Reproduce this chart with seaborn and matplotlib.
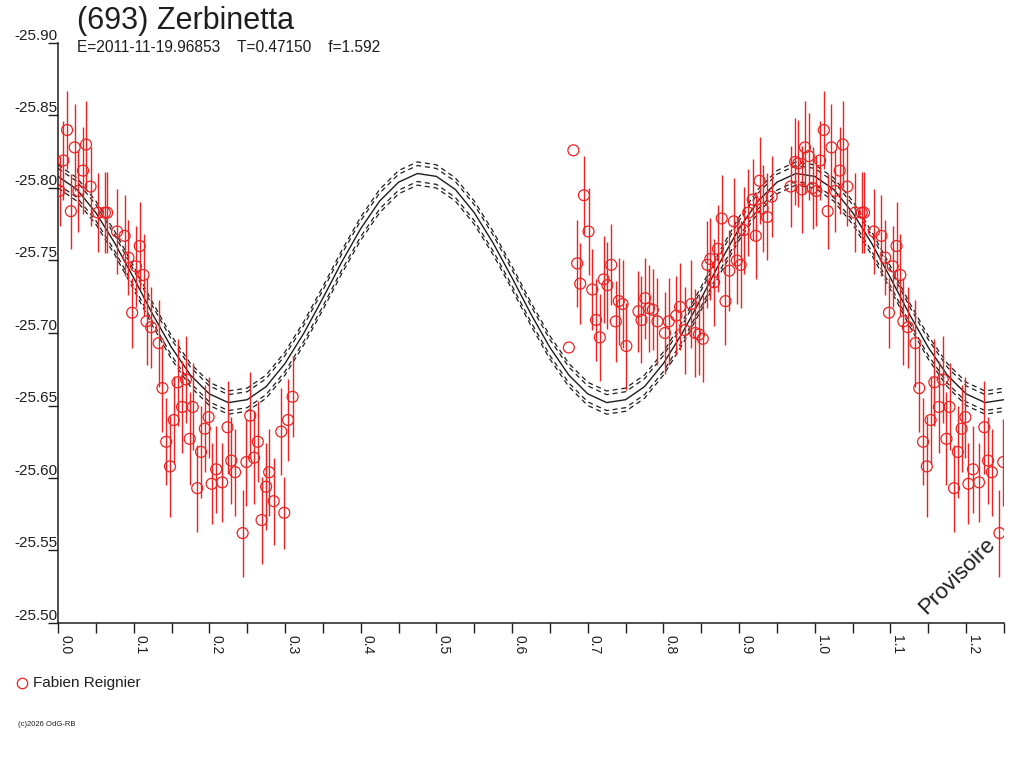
import numpy as np
import pandas as pd
import matplotlib
matplotlib.use("Agg")
import matplotlib.pyplot as plt
import seaborn as sns
from matplotlib.lines import Line2D

# ---------------- data ----------------
title = "(693) Zerbinetta"
subtitle = "E=2011-11-19.96853    T=0.47150    f=1.592"
observer = "Fabien Reignier"
watermark = "Provisoire"
credit = "(c)2026 OdG-RB"

phase = [0.002, 0.007, 0.012, 0.017, 0.022, 0.027, 0.033, 0.037, 0.043, 0.053,
         0.062, 0.065, 0.078, 0.088, 0.093, 0.098, 0.103, 0.108, 0.113, 0.117,
         0.123, 0.133, 0.138, 0.143, 0.148, 0.153, 0.158, 0.164, 0.169, 0.174,
         0.178, 0.184, 0.189, 0.194, 0.199, 0.203, 0.209, 0.217, 0.224, 0.229,
         0.234, 0.244, 0.249, 0.254, 0.259, 0.264, 0.269, 0.275, 0.279, 0.285,
         0.295, 0.299, 0.304, 0.310,
         0.675, 0.681, 0.686, 0.690, 0.695, 0.701, 0.706, 0.711, 0.716, 0.721,
         0.726, 0.731, 0.737, 0.741, 0.746, 0.751, 0.767, 0.771, 0.776, 0.781,
         0.786, 0.792, 0.802, 0.807, 0.817, 0.822, 0.828, 0.837, 0.842, 0.847,
         0.852, 0.858, 0.862, 0.867, 0.872, 0.877, 0.882, 0.887, 0.893, 0.897,
         0.902, 0.906, 0.912, 0.918, 0.922, 0.927, 0.931, 0.937, 0.943, 0.968,
         0.974, 0.978, 0.983, 0.987, 0.992, 0.997]

mag = [-25.798, -25.819, -25.840, -25.784, -25.828, -25.798, -25.812, -25.830, -25.801, -25.783,
       -25.783, -25.783, -25.770, -25.767, -25.752, -25.714, -25.746, -25.760, -25.740, -25.708,
       -25.704, -25.693, -25.662, -25.625, -25.608, -25.640, -25.666, -25.649, -25.668, -25.627,
       -25.649, -25.593, -25.618, -25.634, -25.642, -25.596, -25.606, -25.597, -25.635, -25.612,
       -25.604, -25.562, -25.611, -25.643, -25.614, -25.625, -25.571, -25.594, -25.604, -25.584,
       -25.632, -25.576, -25.640, -25.656,
       -25.690, -25.826, -25.748, -25.734, -25.795, -25.770, -25.730, -25.709, -25.697, -25.737,
       -25.733, -25.747, -25.708, -25.722, -25.720, -25.691, -25.715, -25.709, -25.724, -25.717,
       -25.716, -25.708, -25.700, -25.708, -25.712, -25.718, -25.702, -25.720, -25.700, -25.699,
       -25.696, -25.747, -25.751, -25.735, -25.758, -25.779, -25.722, -25.743, -25.777, -25.750,
       -25.747, -25.771, -25.783, -25.792, -25.767, -25.805, -25.786, -25.780, -25.794, -25.801,
       -25.818, -25.817, -25.799, -25.828, -25.822, -25.800]

err = [0.024, 0.027, 0.027, 0.026, 0.030, 0.028, 0.030, 0.030, 0.027, 0.027,
       0.028, 0.028, 0.029, 0.028, 0.026, 0.024, 0.028, 0.030, 0.028, 0.030,
       0.028, 0.030, 0.030, 0.030, 0.035, 0.030, 0.030, 0.032, 0.030, 0.032,
       0.030, 0.030, 0.032, 0.030, 0.028, 0.028, 0.030, 0.027, 0.032, 0.030,
       0.030, 0.030, 0.030, 0.030, 0.032, 0.028, 0.030, 0.030, 0.030, 0.030,
       0.030, 0.025, 0.028, 0.028,
       0.000, 0.000, 0.030, 0.028, 0.027, 0.030, 0.028, 0.028, 0.030, 0.030,
       0.030, 0.028, 0.028, 0.030, 0.030, 0.030, 0.028, 0.030, 0.028, 0.030,
       0.028, 0.030, 0.028, 0.030, 0.027, 0.030, 0.030, 0.030, 0.030, 0.028,
       0.030, 0.030, 0.028, 0.030, 0.030, 0.030, 0.030, 0.028, 0.030, 0.030,
       0.030, 0.030, 0.030, 0.028, 0.030, 0.030, 0.030, 0.030, 0.028, 0.028,
       0.030, 0.030, 0.030, 0.032, 0.030, 0.028]

fit_phase = [0.000, 0.025, 0.050, 0.075, 0.100, 0.125, 0.150, 0.175, 0.200, 0.225,
             0.250, 0.275, 0.300, 0.325, 0.350, 0.375, 0.400, 0.425, 0.450, 0.475,
             0.500, 0.525, 0.550, 0.575, 0.600, 0.625, 0.650, 0.675, 0.700, 0.725,
             0.750, 0.775, 0.800, 0.825, 0.850, 0.875, 0.900, 0.925, 0.950, 0.975,
             1.000, 1.025, 1.050, 1.075, 1.100, 1.125, 1.150, 1.175, 1.200, 1.225,
             1.250]
fit_mag = [-25.808, -25.799, -25.783, -25.762, -25.738, -25.713, -25.690, -25.671, -25.658, -25.652,
           -25.654, -25.663, -25.679, -25.700, -25.724, -25.749, -25.772, -25.791, -25.804, -25.810,
           -25.808, -25.799, -25.783, -25.762, -25.738, -25.713, -25.690, -25.671, -25.658, -25.652,
           -25.654, -25.663, -25.679, -25.700, -25.724, -25.749, -25.772, -25.791, -25.804, -25.810,
           -25.808, -25.799, -25.783, -25.762, -25.738, -25.713, -25.690, -25.671, -25.658, -25.652,
           -25.654]
fit_band = [-0.008, -0.0055, 0.0055, 0.008]

xtick_major = [0.0, 0.1, 0.2, 0.3, 0.4, 0.5, 0.6, 0.7, 0.8, 0.9, 1.0, 1.1, 1.2]
xtick_labels = ["0.0", "0.1", "0.2", "0.3", "0.4", "0.5", "0.6", "0.7", "0.8", "0.9", "1.0", "1.1", "1.2"]
xtick_minor = [0.05, 0.15, 0.25, 0.35, 0.45, 0.55, 0.65, 0.75, 0.85, 0.95, 1.05, 1.15, 1.25]
ytick_vals = [-25.90, -25.85, -25.80, -25.75, -25.70, -25.65, -25.60, -25.55, -25.50]
ytick_labels = ["-25.90", "-25.85", "-25.80", "-25.75", "-25.70", "-25.65", "-25.60", "-25.55", "-25.50"]
xlim = (0.0, 1.25)
ylim = (-25.50, -25.90)

# ---------------- style ----------------
sns.set_theme(style="white")
plt.rcParams["font.family"] = ["Liberation Sans", "DejaVu Sans"]
RED = "#ee2222"
INK = "#1e1e1e"

W, H = 1024, 768
fig = plt.figure(figsize=(W / 100, H / 100), dpi=100)
fig.patch.set_facecolor("white")
ax = fig.add_axes([58 / W, 145 / H, 946 / W, 580 / H])
ax.set_facecolor("white")

# fit curves
fit = pd.DataFrame({"phase": fit_phase, "mag": fit_mag})
sns.lineplot(data=fit, x="phase", y="mag", ax=ax, color=INK, lw=1.0,
             estimator=None, sort=False)
for off in fit_band:
    sns.lineplot(x=fit["phase"], y=fit["mag"] + off, ax=ax, color=INK, lw=0.9,
                 estimator=None, sort=False, linestyle=(0, (4, 3)))

# observations (and repetition beyond phase 1)
obs = pd.DataFrame({"phase": phase, "mag": mag, "err": err})
rep = obs[obs["phase"] + 1 <= xlim[1]].copy()
rep["phase"] = rep["phase"] + 1
allobs = pd.concat([obs, rep], ignore_index=True)

ax.errorbar(allobs["phase"], allobs["mag"], yerr=allobs["err"], fmt="none",
            ecolor=RED, elinewidth=1.0, capsize=0, zorder=3)
sns.scatterplot(data=allobs, x="phase", y="mag", ax=ax, marker="o", s=62,
                facecolor="none", edgecolor=RED, linewidth=0.9, zorder=4)

ax.set_xlim(*xlim)
ax.set_ylim(*ylim)
ax.set_xlabel("")
ax.set_ylabel("")

# axes styling
for side in ["top", "right"]:
    ax.spines[side].set_visible(False)
for side in ["left", "bottom"]:
    ax.spines[side].set_color(INK)
    ax.spines[side].set_linewidth(1.1)

ax.set_xticks(xtick_major)
ax.set_xticklabels(xtick_labels)
ax.set_xticks(xtick_minor, minor=True)
ax.tick_params(axis="x", which="both", direction="out", length=7.5, width=1.0,
               color=INK, bottom=True, pad=1.0, labelsize=10, labelcolor=INK)
for lab in ax.get_xticklabels():
    lab.set_rotation(-90)
    lab.set_ha("left")
    lab.set_va("top")

ax.set_yticks(ytick_vals)
ax.set_yticklabels(ytick_labels)
ax.tick_params(axis="y", which="both", direction="out", length=7, width=1.0,
               color=INK, left=True, pad=-6.5, labelsize=11, labelcolor=INK)
for lab in ax.get_yticklabels():
    lab.set_va("bottom")

# texts
fig.text(77 / W, 1 - 21 / H, title, fontsize=22, color=INK, ha="left", va="center")
fig.text(77 / W, 1 - 48 / H, subtitle, fontsize=11.2, color=INK, ha="left", va="center")
fig.text(957 / W, 1 - 576 / H, watermark, fontsize=16, color=INK, rotation=45,
         ha="center", va="center")
fig.add_artist(Line2D([22 / W], [1 - 683 / H], transform=fig.transFigure, marker="o",
                      markersize=7.5, markerfacecolor="none", markeredgecolor=RED,
                      markeredgewidth=0.9, linestyle="none"))
fig.text(33 / W, 1 - 683 / H, observer, fontsize=11, color=INK, ha="left", va="center")
fig.text(18 / W, 1 - 725 / H, credit, fontsize=5.5, color=INK, ha="left", va="center")

fig.savefig("out.png", dpi=100, facecolor="white")
